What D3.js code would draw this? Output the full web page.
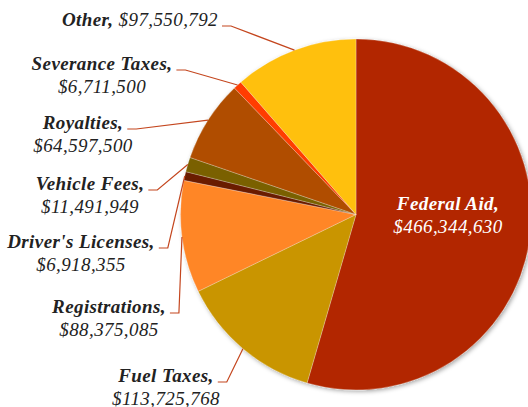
<!DOCTYPE html>
<html>
<head>
<meta charset="utf-8">
<script src="https://cdn.jsdelivr.net/npm/d3@7"></script>
<style>
  body { margin: 0; background: #fff; }
  svg text { font-family: "Liberation Serif", "Times New Roman", serif; font-style: italic; font-size: 19px; fill: #222; letter-spacing: 0.4px; }
  .name { font-weight: bold; }
  .inside { fill: #fff; }
  .leader { fill: none; stroke: #c4461e; stroke-width: 1.2; }
</style>
</head>
<body>
<div id="chart"></div>
<script>
// data
const categories = ["Federal Aid", "Fuel Taxes", "Registrations", "Driver's Licenses",
                    "Vehicle Fees", "Royalties", "Severance Taxes", "Other"];
const values = [466344630, 113725768, 88375085, 6918355, 11491949, 64597500, 6711500, 97550792];
const colors = ["#b22800", "#c99500", "#ff8628", "#6b1a00", "#7a6000", "#b04e00", "#ff3d00", "#ffc011"];

// label layout (x = centre of the label block, y = first baseline)
const labelLayout = [
    { inside: true, x: 448, y: 210 },
    { x: 166, y: 382 },
    { x: 109, y: 313 },
    { x: 81, y: 248 },
    { x: 90, y: 190 },
    { x: 83, y: 129 },
    { x: 102, y: 70 },
    { oneLine: true, x: 218, y: 26 }
];

const width = 528, height = 407;
const cx = 356, cy = 214.5, radius = 175.5;
const fmt = d3.format("$,");

const svg = d3.select("#chart").append("svg")
    .attr("width", width)
    .attr("height", height);

const defs = svg.append("defs");
const shadow = defs.append("filter").attr("id", "shadow")
    .attr("x", "-20%").attr("y", "-20%").attr("width", "140%").attr("height", "140%");
shadow.append("feDropShadow")
    .attr("dx", 1.5).attr("dy", 1.5).attr("stdDeviation", 2)
    .attr("flood-color", "#000").attr("flood-opacity", 0.35);

const data = categories.map((c, i) => ({ name: c, value: values[i], color: colors[i], layout: labelLayout[i] }));

const pie = d3.pie().value(d => d.value).sort(null);
const arcs = pie(data);
const arc = d3.arc().innerRadius(0).outerRadius(radius);

const g = svg.append("g").attr("transform", `translate(${cx},${cy})`);

g.append("g").attr("filter", "url(#shadow)")
    .selectAll("path").data(arcs).join("path")
    .attr("d", arc)
    .attr("fill", d => d.data.color)
    .attr("stroke", "rgba(255,255,255,0.5)")
    .attr("stroke-width", 0.5);

// --- Labels ---
const labels = svg.append("g");

arcs.forEach(a => {
    const L = a.data.layout;
    if (L.inside) {
        const t = labels.append("text").attr("class", "inside").attr("text-anchor", "middle");
        t.append("tspan").attr("class", "name").attr("x", L.x).attr("y", L.y).text(a.data.name + ",");
        t.append("tspan").attr("x", L.x).attr("y", L.y + 23).text(fmt(a.data.value));
        return;
    }
    let endX;
    if (L.oneLine) {
        const t = labels.append("text").attr("text-anchor", "end").attr("x", L.x).attr("y", L.y);
        t.append("tspan").attr("class", "name").text(a.data.name + ", ");
        t.append("tspan").text(fmt(a.data.value));
        endX = L.x;
    } else {
        const t1 = labels.append("text").attr("class", "name").attr("text-anchor", "middle")
            .attr("x", L.x).attr("y", L.y).text(a.data.name + ",");
        labels.append("text").attr("text-anchor", "middle")
            .attr("x", L.x).attr("y", L.y + 23).text(fmt(a.data.value));
        endX = L.x + t1.node().getComputedTextLength() / 2;
    }
    // leader line: short horizontal tick then to the slice edge at its mid angle
    const mid = (a.startAngle + a.endAngle) / 2;
    const ex = cx + radius * Math.sin(mid);
    const ey = cy - radius * Math.cos(mid);
    const sx = endX + 4;
    labels.append("path").attr("class", "leader")
        .attr("d", d3.line()([[sx, L.y], [sx + 9, L.y], [ex, ey]]));
});
</script>
</body>
</html>
